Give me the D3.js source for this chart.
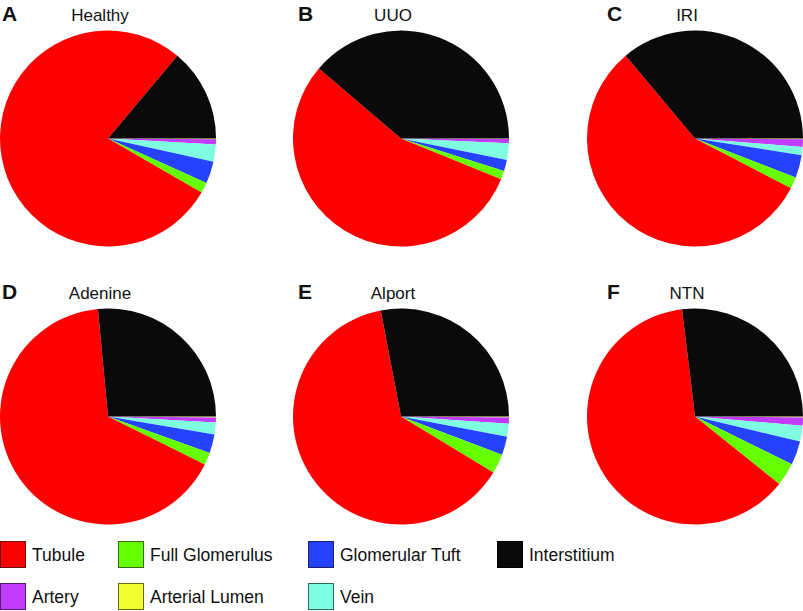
<!DOCTYPE html>
<html>
<head>
<meta charset="utf-8">
<script src="https://cdn.jsdelivr.net/npm/d3@7"></script>
<style>
  html, body { margin: 0; padding: 0; background: #ffffff; }
  svg { display: block; }
  text { font-family: "Liberation Sans", Arial, Helvetica, sans-serif; }
</style>
</head>
<body>
<svg id="chart" width="803" height="611"></svg>
<script>
// ---- data (percent of area) ----
const conditions   = ["Healthy", "UUO", "IRI", "Adenine", "Alport", "NTN"];
const panelLetters = ["A", "B", "C", "D", "E", "F"];
// slice order, clockwise from 3 o'clock
const categories   = ["Arterial Lumen", "Artery", "Vein", "Glomerular Tuft", "Full Glomerulus", "Tubule", "Interstitium"];
const arterialLumen  = [0.11, 0.08, 0.11, 0.14, 0.14, 0.14];
const artery         = [0.78, 0.61, 1.14, 0.75, 0.94, 1.22];
const vein           = [2.56, 2.50, 1.22, 1.78, 1.92, 2.36];
const glomerularTuft = [3.31, 1.67, 3.42, 2.81, 2.75, 3.58];
const fullGlomerulus = [1.58, 1.28, 1.72, 1.86, 2.94, 3.44];
const tubule         = [77.8, 55.1, 56.3, 66.2, 63.3, 62.3];
const interstitium   = [13.9, 38.75, 36.1, 26.5, 28.0, 26.9];
// legend order
const legendRow1 = ["Tubule", "Full Glomerulus", "Glomerular Tuft", "Interstitium"];
const legendRow2 = ["Artery", "Arterial Lumen", "Vein"];

const seriesByCategory = {
  "Arterial Lumen": arterialLumen,
  "Artery": artery,
  "Vein": vein,
  "Glomerular Tuft": glomerularTuft,
  "Full Glomerulus": fullGlomerulus,
  "Tubule": tubule,
  "Interstitium": interstitium
};

const color = d3.scaleOrdinal()
  .domain(["Tubule", "Full Glomerulus", "Glomerular Tuft", "Interstitium", "Artery", "Arterial Lumen", "Vein"])
  .range(["#ff0000", "#66ff00", "#2442ff", "#0a0a0a", "#c13cff", "#f2ff2e", "#7ffde0"]);
const strokeColor = d3.scaleOrdinal()
  .domain(color.domain())
  .range(["#6a1010", "#3a6a10", "#1a2070", "#000000", "#5a1a70", "#6a6a10", "#2a6a60"]);

// ---- layout ----
const svg = d3.select("#chart");
const colCenters = [108, 401, 695];
const rowCenters = [138.5, 416.5];
const radius = 108;
const letterX = [2, 298, 607];

const pie = d3.pie()
  .sort(null)
  .value(d => d.value)
  .startAngle(Math.PI / 2)
  .endAngle(Math.PI / 2 + 2 * Math.PI);
const arc = d3.arc().innerRadius(0).outerRadius(radius);

conditions.forEach((cond, i) => {
  const col = i % 3, row = Math.floor(i / 3);
  const cx = colCenters[col], cy = rowCenters[row];
  const data = categories.map(c => ({ cat: c, value: seriesByCategory[c][i] }));
  const g = svg.append("g").attr("transform", `translate(${cx},${cy})`);
  g.selectAll("path")
    .data(pie(data))
    .join("path")
    .attr("d", arc)
    .attr("fill", d => color(d.data.cat));

  svg.append("text")
    .attr("x", letterX[col])
    .attr("y", cy - 117.5)
    .attr("font-size", 21)
    .attr("font-weight", "bold")
    .attr("fill", "#111")
    .text(panelLetters[i]);

  svg.append("text")
    .attr("x", cx - 8)
    .attr("y", cy - 117.5)
    .attr("text-anchor", "middle")
    .attr("font-size", 17)
    .attr("fill", "#111")
    .text(cond);
});

// ---- legend ----
const legendX = [0, 118, 308, 497];
const legendY = [541, 583];
[legendRow1, legendRow2].forEach((items, r) => {
  items.forEach((name, k) => {
    const g = svg.append("g").attr("transform", `translate(${legendX[k]},${legendY[r]})`);
    g.append("rect")
      .attr("x", 0.5).attr("y", 0.5)
      .attr("width", 25).attr("height", 26)
      .attr("fill", color(name))
      .attr("stroke", strokeColor(name))
      .attr("stroke-width", 1);
    g.append("text")
      .attr("x", 32)
      .attr("y", 19.5)
      .attr("font-size", 17.5)
      .attr("fill", "#111")
      .text(name);
  });
});
</script>
</body>
</html>
